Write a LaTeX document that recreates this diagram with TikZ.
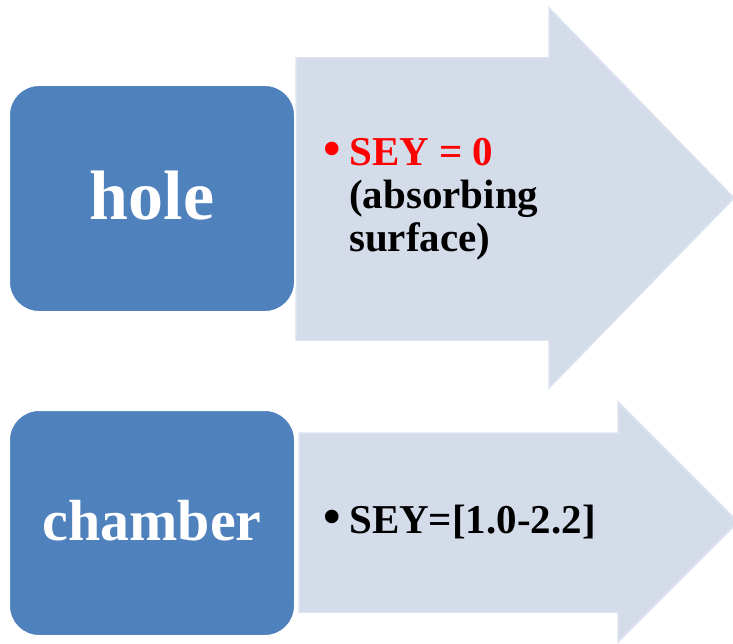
\documentclass[tikz,border=0pt]{standalone}
\usepackage{fontspec}
\setmainfont{Liberation Serif}
\definecolor{boxblue}{RGB}{79,129,189}
\definecolor{arrowfill}{RGB}{212,220,234}
\definecolor{arrowedge}{RGB}{220,226,238}
\definecolor{seyred}{RGB}{255,0,0}
\tikzset{
  bluebox/.style={draw=white, line width=2pt, fill=boxblue, rounded corners=30pt, text=white, font=\bfseries},
  arrowshape/.style={fill=arrowfill, draw=arrowedge, line width=1.5pt},
  itemtext/.style={anchor=north west, inner sep=0pt, align=left, font=\bfseries\fontsize{41}{43}\selectfont},
  bulletmark/.style={anchor=base west, inner sep=0pt, font=\bfseries\fontsize{50}{50}\selectfont}
}
\begin{document}
\begin{tikzpicture}[x=1pt,y=-1pt]
  \useasboundingbox (0,0) rectangle (733,644);
  \clip (0,0) rectangle (733,644);
  \fill[white] (0,0) rectangle (733,644);
  % top arrow
  \path[arrowshape] (296,58) -- (549,58) -- (549,8) -- (734,198) -- (549,388) -- (549,340) -- (296,340) -- cycle;
  % bottom arrow
  \path[arrowshape] (299,433) -- (618,433) -- (618,402) -- (738,522) -- (618,642) -- (618,612) -- (299,612) -- cycle;
  % boxes
  \path[bluebox] (9,85) rectangle (295,312);
  \node (hole) at (152,196) [text=white, font=\bfseries\fontsize{70}{70}\selectfont] {hole};
  \path[bluebox] (9,410) rectangle (295,636);
  \node (chamber) at (152,521) [text=white, font=\bfseries\fontsize{58}{58}\selectfont] {chamber};
  % texts
  \node (b1) [bulletmark, text=seyred] at (323,166) {•};
  \node (t1) [itemtext] at (349,138) {\textcolor{seyred}{SEY = 0}\\(absorbing\\surface)};
  \node (b2) [bulletmark] at (323,533) {•};
  \node (t2) [itemtext, anchor=base west] at (349,533) {SEY=[1.0-2.2]};
\end{tikzpicture}
\end{document}
